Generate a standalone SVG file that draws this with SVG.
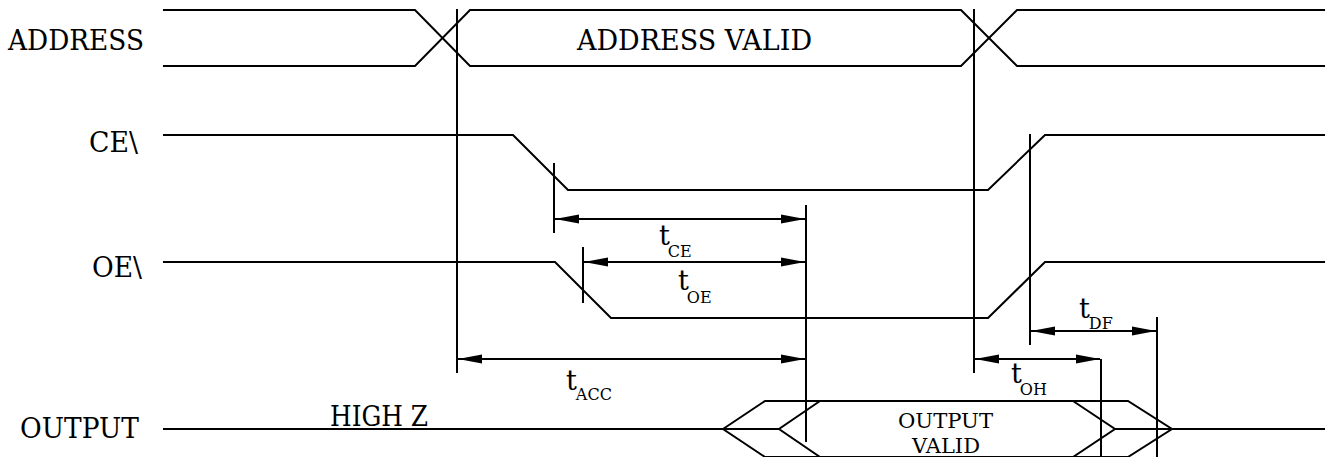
<svg xmlns="http://www.w3.org/2000/svg" width="1328" height="457" viewBox="0 0 1328 457">
<style>
.sig{fill:none;stroke:#000;stroke-width:2;stroke-linejoin:miter}
.ln{fill:none;stroke:#000;stroke-width:2}
.arr{fill:none;stroke:#000;stroke-width:2;marker-start:url(#ah);marker-end:url(#ah)}
text{font-family:'DejaVu Serif',serif;fill:#000}
.lbl{font-size:27px}
.sub{font-size:16px}
.ov{font-size:21px}
</style>
<defs>
<marker id="ah" markerUnits="userSpaceOnUse" markerWidth="24" markerHeight="10" refX="24" refY="5" orient="auto-start-reverse" viewBox="0 0 24 10">
<path d="M0,0.5 L24,5 L0,9.5 z" fill="#000"/>
</marker>
</defs>
<g id="labels">
<text class="lbl" x="8" y="50" textLength="136" lengthAdjust="spacingAndGlyphs">ADDRESS</text>
<text class="lbl" x="89" y="152" textLength="49" lengthAdjust="spacingAndGlyphs">CE\</text>
<text class="lbl" x="92" y="277" textLength="50" lengthAdjust="spacingAndGlyphs">OE\</text>
<text class="lbl" x="20" y="438" textLength="119" lengthAdjust="spacingAndGlyphs">OUTPUT</text>
</g>
<g id="address">
<path class="sig" d="M163,10 H415 L470,66 H961 L1017,10 H1325"/>
<path class="sig" d="M163,66 H415 L470,10 H961 L1017,66 H1325"/>
<text class="lbl" x="577" y="50" textLength="235" lengthAdjust="spacingAndGlyphs">ADDRESS VALID</text>
</g>
<g id="ce">
<path class="sig" d="M163,135 H513 L568,190 H988 L1045,135 H1325"/>
</g>
<g id="oe">
<path class="sig" d="M163,262 H555 L611,318 H988 L1045,262 H1325"/>
</g>
<g id="output">
<path class="sig" d="M163,429 H779"/>
<path class="sig" d="M1115,429 H1325"/>
<path class="sig" d="M723,429 L765,401 H1128 L1172,429 L1128,457 H765 Z"/>
<path class="sig" d="M820,401 L779,429 L820,457"/>
<path class="sig" d="M1073,401 L1115,429 L1073,457"/>
<text class="lbl" x="330" y="426" textLength="98" lengthAdjust="spacingAndGlyphs">HIGH Z</text>
<text class="ov" x="898" y="428" textLength="95" lengthAdjust="spacingAndGlyphs">OUTPUT</text>
<text class="ov" x="912" y="453" textLength="68" lengthAdjust="spacingAndGlyphs">VALID</text>
</g>
<g id="connectors">
<line class="ln" x1="457" y1="9" x2="457" y2="373"/>
<line class="ln" x1="974" y1="9" x2="974" y2="373"/>
<line class="ln" x1="554" y1="163" x2="554" y2="233"/>
<line class="ln" x1="806" y1="205" x2="806" y2="442"/>
<line class="ln" x1="583" y1="247" x2="583" y2="303"/>
<line class="ln" x1="1030" y1="134" x2="1030" y2="345"/>
<line class="ln" x1="1157" y1="317" x2="1157" y2="457"/>
<line class="ln" x1="1101" y1="359" x2="1101" y2="457"/>
<line class="arr" x1="555" y1="219" x2="805" y2="219"/>
<line class="arr" x1="584" y1="262" x2="805" y2="262"/>
<line class="arr" x1="458" y1="359" x2="805" y2="359"/>
<line class="arr" x1="975" y1="359" x2="1100" y2="359"/>
<line class="arr" x1="1031" y1="331" x2="1156" y2="331"/>
</g>
<g id="timing-labels">
<text class="lbl" x="659" y="245">t<tspan class="sub" dx="-2" dy="12">CE</tspan></text>
<text class="lbl" x="678" y="290">t<tspan class="sub" dx="-2" dy="13">OE</tspan></text>
<text class="lbl" x="566" y="390">t<tspan class="sub" dx="-1" dy="10">ACC</tspan></text>
<text class="lbl" x="1079" y="318">t<tspan class="sub" dx="-1" dy="11">DF</tspan></text>
<text class="lbl" x="1011" y="383">t<tspan class="sub" dx="-2" dy="12">OH</tspan></text>
</g>
</svg>
